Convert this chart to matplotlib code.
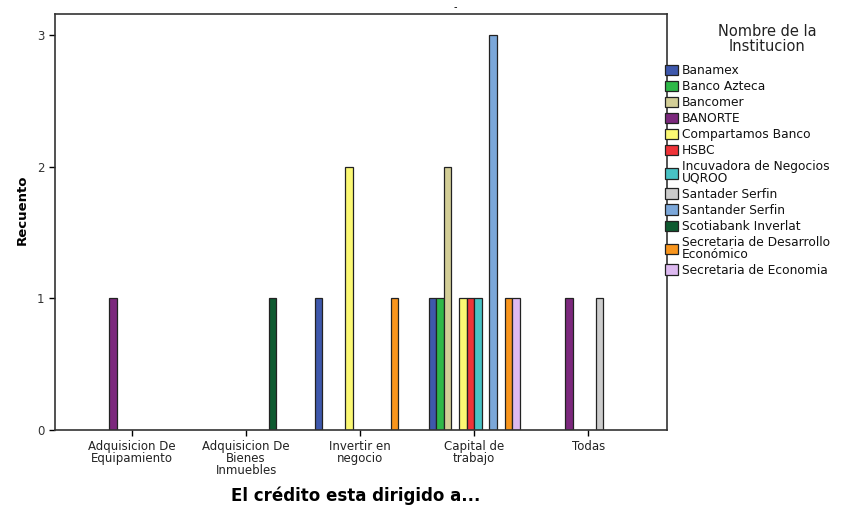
import numpy as np
import matplotlib
matplotlib.use("Agg")
import matplotlib.pyplot as plt
from matplotlib.patches import Patch

plt.rcParams["font.family"] = ["DejaVu Sans"]

categories = [
    "Adquisicion De\nEquipamiento",
    "Adquisicion De\nBienes\nInmuebles",
    "Invertir en\nnegocio",
    "Capital de\ntrabajo",
    "Todas",
]
institutions = [
    "Banamex", "Banco Azteca", "Bancomer", "BANORTE", "Compartamos Banco",
    "HSBC", "Incuvadora de Negocios\nUQROO", "Santader Serfin",
    "Santander Serfin", "Scotiabank Inverlat",
    "Secretaria de Desarrollo\nEconómico", "Secretaria de Economia",
]
colors = [
    "#3e58ac", "#2eb848", "#d3ce97", "#7c287d", "#fbf873", "#ef3338",
    "#48c2c5", "#cccccc", "#7ba7d9", "#0e5a30", "#f8951d", "#ddb9f0",
]
# counts[institution][category]
counts = [
    [0, 0, 1, 1, 0],  # Banamex
    [0, 0, 0, 1, 0],  # Banco Azteca
    [0, 0, 0, 2, 0],  # Bancomer
    [1, 0, 0, 0, 1],  # BANORTE
    [0, 0, 2, 1, 0],  # Compartamos Banco
    [0, 0, 0, 1, 0],  # HSBC
    [0, 0, 0, 1, 0],  # Incuvadora
    [0, 0, 0, 0, 1],  # Santader Serfin
    [0, 0, 0, 3, 0],  # Santander Serfin
    [0, 1, 0, 0, 0],  # Scotiabank
    [0, 0, 1, 1, 0],  # Sec. Desarrollo
    [0, 0, 0, 1, 0],  # Sec. Economia
]

fig = plt.figure(figsize=(8.61, 5.08), dpi=100)
ax = fig.add_axes([55 / 861, 1 - 430 / 508, (667 - 55) / 861, (430 - 14) / 508])

n = len(institutions)
w = 0.8 / n
x = np.arange(len(categories))
for i, (name, col, vals) in enumerate(zip(institutions, colors, counts)):
    vals = np.array(vals)
    m = vals > 0
    ax.bar(x[m] + (i - (n - 1) / 2) * w, vals[m], width=w, color=col,
           edgecolor="#222222", linewidth=0.9)

ax.set_xlim(-0.675, 4.69)
ax.set_ylim(0, 3.16)
ax.set_yticks([0, 1, 2, 3])
ax.set_xticks(x)
ax.set_xticklabels(categories, fontsize=8.5, color="#222222", linespacing=0.93)
ax.tick_params(axis="y", labelsize=8.5, labelcolor="#333333", length=4, width=1)
ax.tick_params(axis="x", length=4, width=1, pad=3)
for s in ax.spines.values():
    s.set_linewidth(1.2)
    s.set_color("#333333")

fig.text(356 / 861, 1 - 496 / 508, "El crédito esta dirigido a...",
         ha="center", va="center", fontsize=12, fontweight="bold")
fig.text(22 / 861, 1 - 210 / 508, "Recuento", rotation=90,
         ha="center", va="center", fontsize=9.5, fontweight="bold")
fig.text(455 / 861, 1 - 7 / 508, "-", ha="center", va="center", fontsize=7)

# legend title drawn separately so its gap to the entries can match
fig.text(767 / 861, 1 - 39 / 508, "Nombre de la\nInstitucion",
         ha="center", va="center", fontsize=10.5, color="#222222",
         linespacing=1.05)

handles = [Patch(facecolor=c, edgecolor="#222222", linewidth=0.9) for c in colors]
leg = fig.legend(handles, institutions, loc="upper left",
                 bbox_to_anchor=(665 / 861, 1 - 64 / 508),
                 fontsize=8.8, frameon=False, handlelength=1.05,
                 handleheight=0.95, handletextpad=0.3, labelspacing=0.25,
                 borderaxespad=0, borderpad=0)
for t in leg.get_texts():
    t.set_linespacing(0.85)
    t.set_color("#111111")

fig.savefig("out.png", dpi=100)
